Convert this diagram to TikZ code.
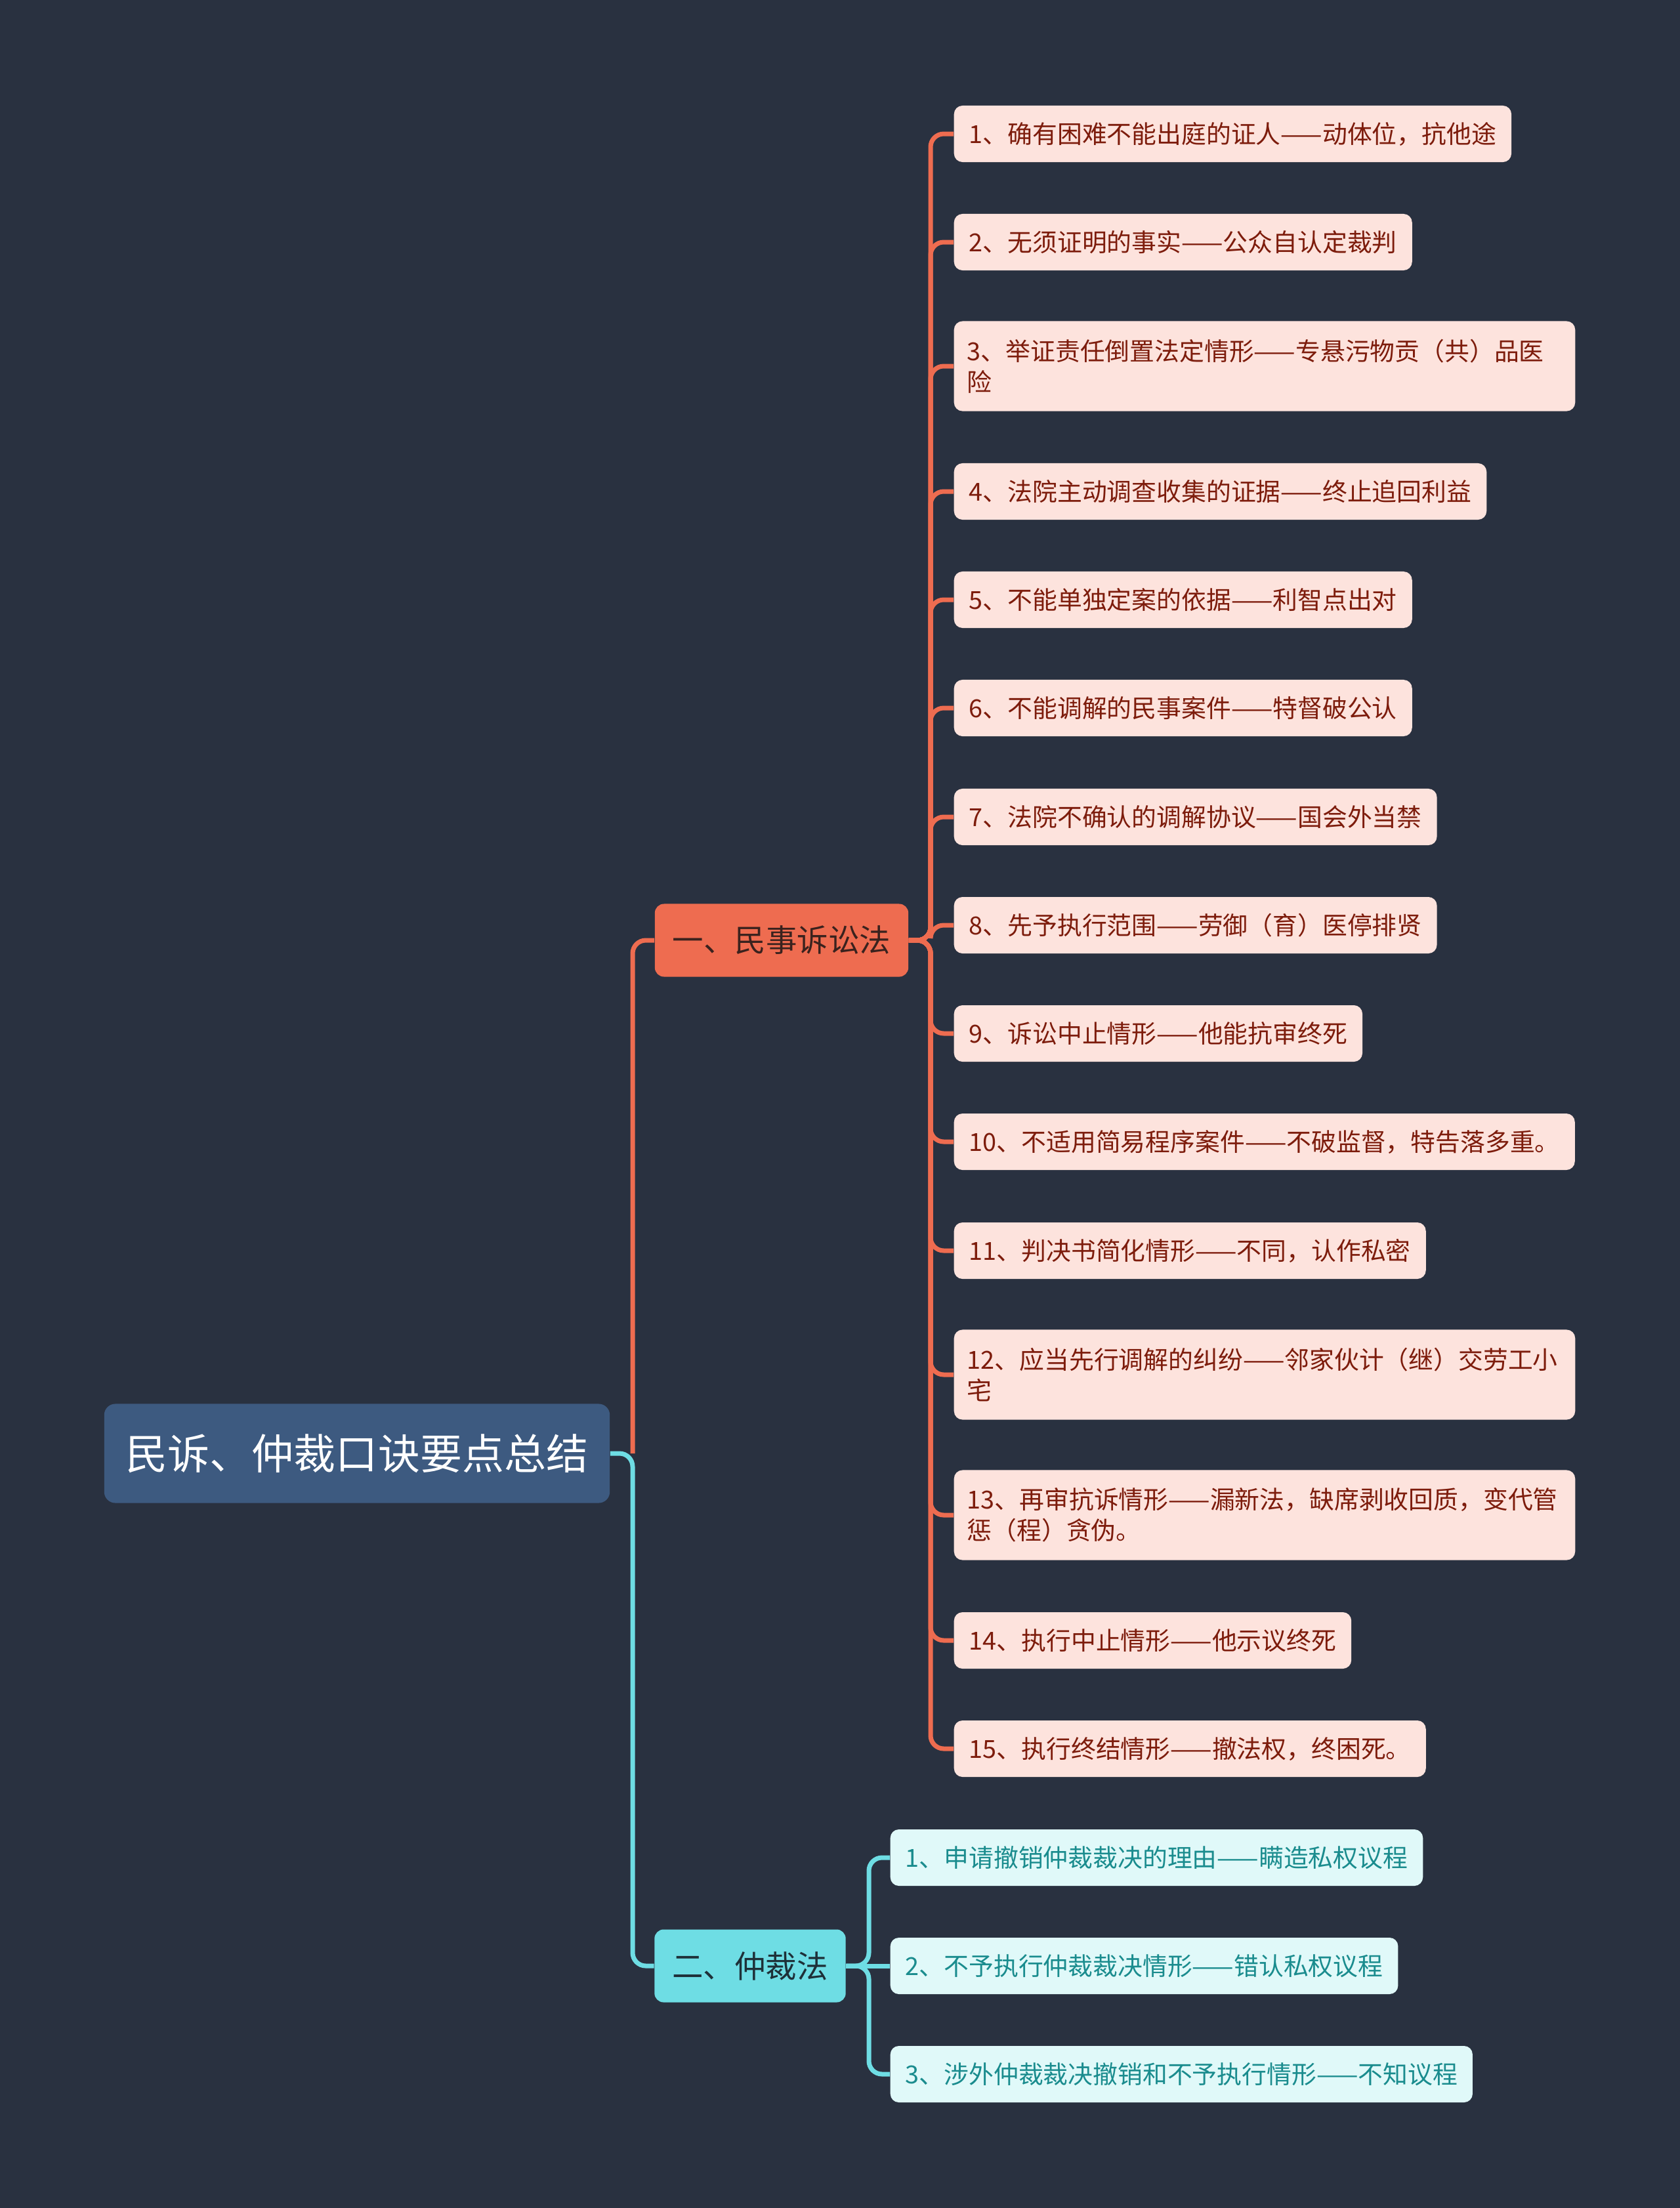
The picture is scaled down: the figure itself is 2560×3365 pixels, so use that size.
\documentclass[tikz,border=0pt]{standalone}
\usepackage{fontspec}
\setmainfont{Noto Sans CJK SC}
\definecolor{mtbg}{RGB}{41,49,64}
\definecolor{mtroot}{RGB}{61,90,128}
\definecolor{mtorange}{RGB}{238,108,80}
\definecolor{mtorangetxt}{RGB}{58,34,30}
\definecolor{mtpink}{RGB}{253,227,221}
\definecolor{mtred}{RGB}{125,28,12}
\definecolor{mtcyan}{RGB}{110,221,228}
\definecolor{mtcyantxt}{RGB}{30,48,56}
\definecolor{mtice}{RGB}{224,249,249}
\definecolor{mtteal}{RGB}{26,140,142}
\usetikzlibrary{positioning}

\tikzset{
  rootbox/.style={fill=mtroot, rounded corners=0.17cm, text=white, minimum width=7.7cm, minimum height=1.51cm, font=\fontsize{18.2pt}{22pt}\selectfont},
  mainbox/.style={rounded corners=0.14cm, minimum height=1.11cm, inner xsep=0.27cm, font=\fontsize{13.5pt}{16pt}\selectfont},
  leafbox/.style={anchor=west, rounded corners=0.13cm, minimum height=0.86cm, inner xsep=0.23cm, align=left, font=\fontsize{10.76pt}{13.4pt}\selectfont},
  leafwide/.style={text width=9.06cm, inner xsep=0.2cm, minimum height=1.37cm},
  redleaf/.style={leafbox, fill=mtpink, text=mtred},
  iceleaf/.style={leafbox, fill=mtice, text=mtteal},
  redline/.style={draw=mtorange, line width=0.07cm, rounded corners=0.2cm},
  cyanline/.style={draw=mtcyan, line width=0.07cm, rounded corners=0.2cm}
}

\begin{document}
\begin{tikzpicture}[x=0.01cm, y=-0.01cm]
  % Background
  \fill[mtbg] (0,0) rectangle (2560,3365);
  \useasboundingbox (0,0) rectangle (2560,3365);

  % Root and main topics
  \node[rootbox] (root) at (544,2215) {民诉、仲裁口诀要点总结};
  \node[mainbox, fill=mtorange, text=mtorangetxt] (civil) at (1191,1433) {一、民事诉讼法};
  \node[mainbox, fill=mtcyan, text=mtcyantxt] (arbit) at (1143,2996) {二、仲裁法};

  % Spine positions
  \coordinate (sp0) at (964,0);
  \coordinate (sp1) at (1418,0);
  \coordinate (sp2) at (1324,0);

  % Civil procedure leaves
  \node[redleaf] (c1) at (1453,204) {1、确有困难不能出庭的证人——动体位，抗他途};
  \node[redleaf] (c2) at (1453,369) {2、无须证明的事实——公众自认定裁判};
  \node[redleaf, leafwide] (c3) at (1453,558) {3、举证责任倒置法定情形——专悬污物贡（共）品医\\险};
  \node[redleaf] (c4) at (1453,749) {4、法院主动调查收集的证据——终止追回利益};
  \node[redleaf] (c5) at (1453,914) {5、不能单独定案的依据——利智点出对};
  \node[redleaf] (c6) at (1453,1079) {6、不能调解的民事案件——特督破公认};
  \node[redleaf] (c7) at (1453,1245) {7、法院不确认的调解协议——国会外当禁};
  \node[redleaf] (c8) at (1453,1410) {8、先予执行范围——劳御（育）医停排贤};
  \node[redleaf] (c9) at (1453,1575) {9、诉讼中止情形——他能抗审终死};
  \node[redleaf] (c10) at (1453,1740) {10、不适用简易程序案件——不破监督，特告落多重。};
  \node[redleaf] (c11) at (1453,1906) {11、判决书简化情形——不同，认作私密};
  \node[redleaf, leafwide] (c12) at (1453,2095) {12、应当先行调解的纠纷——邻家伙计（继）交劳工小\\宅};
  \node[redleaf, leafwide] (c13) at (1453,2309) {13、再审抗诉情形——漏新法，缺席剥收回质，变代管\\惩（程）贪伪。};
  \node[redleaf] (c14) at (1453,2500) {14、执行中止情形——他示议终死};
  \node[redleaf] (c15) at (1453,2665) {15、执行终结情形——撤法权，终困死。};

  % Arbitration leaves
  \node[iceleaf] (a1) at (1356,2831) {1、申请撤销仲裁裁决的理由——瞒造私权议程};
  \node[iceleaf] (a2) at (1356,2996) {2、不予执行仲裁裁决情形——错认私权议程};
  \node[iceleaf] (a3) at (1356,3161) {3、涉外仲裁裁决撤销和不予执行情形——不知议程};

  % Root connectors
  \draw[redline] (root.east -| sp0) |- (civil.west);
  \draw[cyanline] (root.east) -- (root.east -| sp0) |- (arbit.west);

  % Civil connectors
  \draw[redline] (civil.east) -- (civil.east -| sp1) |- (c1.west);
  \draw[redline] (civil.east) -- (civil.east -| sp1) |- (c2.west);
  \draw[redline] (civil.east) -- (civil.east -| sp1) |- (c3.west);
  \draw[redline] (civil.east) -- (civil.east -| sp1) |- (c4.west);
  \draw[redline] (civil.east) -- (civil.east -| sp1) |- (c5.west);
  \draw[redline] (civil.east) -- (civil.east -| sp1) |- (c6.west);
  \draw[redline] (civil.east) -- (civil.east -| sp1) |- (c7.west);
  \draw[redline] (civil.east) -- (civil.east -| sp1) |- (c8.west);
  \draw[redline] (civil.east) -- (civil.east -| sp1) |- (c9.west);
  \draw[redline] (civil.east) -- (civil.east -| sp1) |- (c10.west);
  \draw[redline] (civil.east) -- (civil.east -| sp1) |- (c11.west);
  \draw[redline] (civil.east) -- (civil.east -| sp1) |- (c12.west);
  \draw[redline] (civil.east) -- (civil.east -| sp1) |- (c13.west);
  \draw[redline] (civil.east) -- (civil.east -| sp1) |- (c14.west);
  \draw[redline] (civil.east) -- (civil.east -| sp1) |- (c15.west);

  % Arbitration connectors
  \draw[cyanline] (arbit.east) -- (arbit.east -| sp2) |- (a1.west);
  \draw[cyanline] (arbit.east) -- (a2.west);
  \draw[cyanline] (arbit.east) -- (arbit.east -| sp2) |- (a3.west);
\end{tikzpicture}
\end{document}
